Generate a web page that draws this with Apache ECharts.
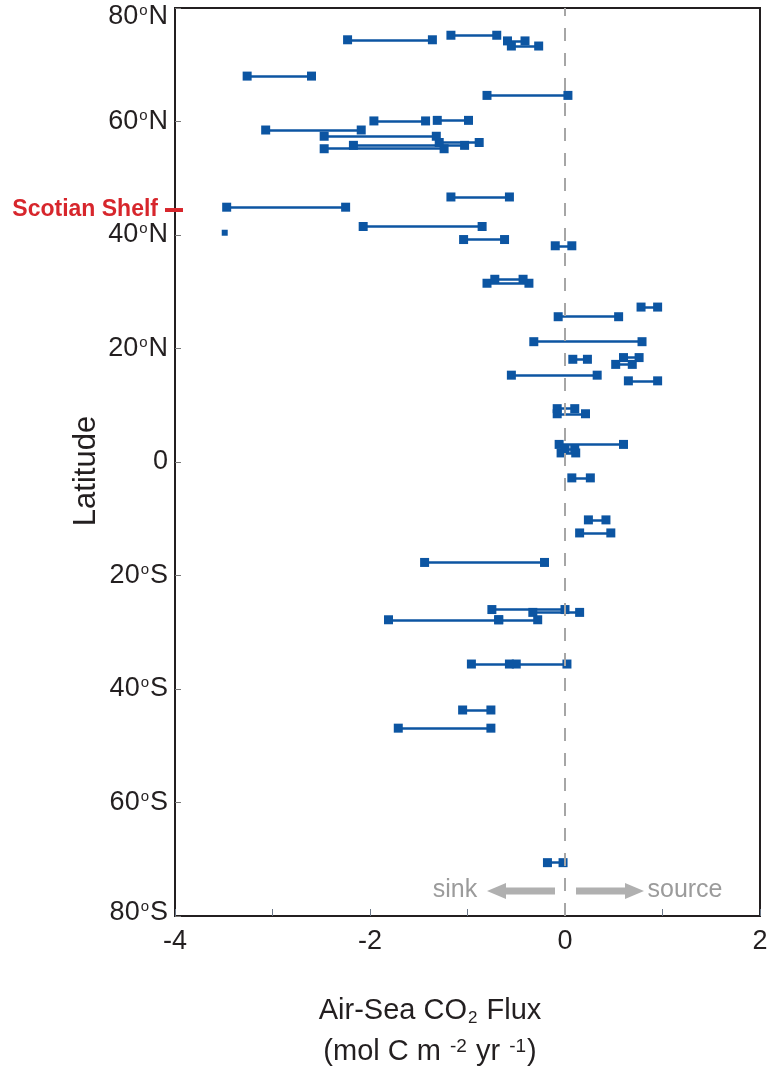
<!DOCTYPE html>
<html>
<head>
<meta charset="utf-8">
<script src="https://cdn.jsdelivr.net/npm/echarts@6/dist/echarts.min.js"></script>
<style>
  html, body { margin: 0; padding: 0; background: #ffffff; }
  #chart { width: 767px; height: 1074px; }
</style>
</head>
<body>
<div id="chart"></div>
<script>
// Latitude (deg, + north / - south) of each flux range
const segLat = [
  75.2, 74.4, 74.2, 73.3, 68.0, 64.6, 60.1, 60.2, 58.5, 57.4,
  55.2, 55.8, 56.3, 46.7, 44.9, 41.5, 39.2, 38.1, 31.5, 32.2,
  27.3, 25.6, 21.2, 18.1, 18.4, 17.2, 15.3, 14.3, 9.4, 8.5,
  3.1, 1.6, 2.3, -2.8, -10.2, -12.5, -17.7, -26.0, -26.5, -27.8,
  -27.8, -35.6, -35.6, -43.7, -46.9, -70.6
];
// Low end of each range (mol C m-2 yr-1)
const fluxStart = [
  -1.17, -2.23, -0.59, -0.55, -3.26, -0.80, -1.96, -1.31, -3.07, -2.47,
  -2.47, -2.17, -1.29, -1.17, -3.47, -2.07, -1.04, -0.10, -0.80, -0.72,
  0.78, -0.07, -0.32, 0.08, 0.60, 0.52, -0.55, 0.65, -0.08, -0.08,
  -0.06, -0.04, 0.00, 0.07, 0.24, 0.15, -1.44, -0.75, -0.33, -1.81,
  -0.68, -0.96, -0.57, -1.05, -1.71, -0.18
];
// High end of each range
const fluxEnd = [
  -0.70, -1.36, -0.41, -0.27, -2.60, 0.03, -1.43, -0.99, -2.09, -1.32,
  -1.24, -1.03, -0.88, -0.57, -2.25, -0.85, -0.62, 0.07, -0.37, -0.43,
  0.95, 0.55, 0.79, 0.23, 0.76, 0.69, 0.33, 0.95, 0.10, 0.21,
  0.60, 0.11, 0.10, 0.26, 0.42, 0.47, -0.21, 0.00, 0.15, -0.68,
  -0.28, 0.02, -0.50, -0.76, -0.76, -0.02
];
// Single-value estimate
const singleLat = [40.4];
const singleFlux = [-3.49];

// Axis ticks and labels
const latTicks = [80, 60, 40, 20, 0, -20, -40, -60, -80];
const latTickNum = ['80', '60', '40', '20', '0', '20', '40', '60', '80'];
const latTickHemi = ['N', 'N', 'N', 'N', '', 'S', 'S', 'S', 'S'];
const fluxTicks = [-4, -2, 0, 2];
const fluxTickText = ['-4', '-2', '0', '2'];

const scotianLat = 44.4;

const FONT = '"Liberation Sans", Arial, Helvetica, sans-serif';
const BLUE = '#0c55a2';
const INK = '#231f20';
const RED = '#d7262c';
const GREY = '#a6a6a6';

const segments = segLat.map((lat, i) => ({ coords: [[fluxStart[i], lat], [fluxEnd[i], lat]] }));
const endpoints = [];
segLat.forEach((lat, i) => { endpoints.push([fluxStart[i], lat]); endpoints.push([fluxEnd[i], lat]); });

// latitude label: number, small raised "o", hemisphere letter;
// the end labels are nudged inward so they stay inside the frame height
function latLabel(v) {
  const k = latTicks.indexOf(v);
  if (k < 0) return '';
  if (!latTickHemi[k]) return '{n|' + latTickNum[k] + '}';
  let n = 'n', d = 'd';
  if (k === 0) { n = 't'; d = 'td'; }
  if (k === latTicks.length - 1) { n = 'b'; d = 'bd'; }
  return '{' + n + '|' + latTickNum[k] + '}{' + d + '|o}{' + n + '|' + latTickHemi[k] + '}';
}
const numStyle = { fontSize: 27, color: INK, fontFamily: FONT };
const degStyle = { fontSize: 15, color: INK, fontFamily: FONT };

const chart = echarts.init(document.getElementById('chart'), null, { renderer: 'canvas' });

const option = {
  animation: false,
  backgroundColor: '#ffffff',
  grid: {
    left: 175, right: 7, top: 8, bottom: 158,
    show: true, borderColor: INK, borderWidth: 2,
    containLabel: false, outerBoundsMode: 'none'
  },
  xAxis: {
    type: 'value', min: -4, max: 2, interval: 1,
    axisLine: { show: true, onZero: false, lineStyle: { color: INK, width: 2 } },
    axisTick: { show: true, inside: true, length: 7, lineStyle: { color: '#6b7787', width: 1 } },
    splitLine: { show: false },
    axisLabel: {
      showMinLabel: true, showMaxLabel: true, hideOverlap: false,
      margin: 12, color: INK, fontSize: 27, fontFamily: FONT,
      formatter: v => {
        const k = fluxTicks.indexOf(v);
        return k >= 0 ? fluxTickText[k] : '';
      }
    }
  },
  yAxis: {
    type: 'value', min: -80, max: 80, interval: 20,
    axisLine: { show: true, onZero: false, lineStyle: { color: INK, width: 2 } },
    axisTick: { show: true, inside: true, length: 6, lineStyle: { color: '#777777', width: 1 } },
    splitLine: { show: false },
    axisLabel: {
      showMinLabel: true, showMaxLabel: true, hideOverlap: false,
      margin: 7,
      formatter: latLabel,
      rich: {
        n: numStyle,
        d: Object.assign({ verticalAlign: 'top', padding: [0, 1, 10, 1] }, degStyle),
        t: Object.assign({ padding: [18, 0, 0, 0] }, numStyle),
        td: Object.assign({ verticalAlign: 'bottom', padding: [0, 1, 12, 1] }, degStyle),
        b: Object.assign({ padding: [0, 0, 6, 0] }, numStyle),
        bd: Object.assign({ verticalAlign: 'top', padding: [0, 1, 16, 1] }, degStyle)
      }
    }
  },
  series: [
    {
      // zero-flux reference
      type: 'scatter', data: [], z: 1, silent: true,
      markLine: {
        silent: true, symbol: ['none', 'none'], animation: false,
        label: { show: false },
        lineStyle: { type: [13, 12], color: GREY, width: 2, opacity: 1 },
        emphasis: { disabled: true },
        data: [{ xAxis: 0 }]
      }
    },
    {
      type: 'lines', coordinateSystem: 'cartesian2d', z: 2, silent: true,
      lineStyle: { color: BLUE, width: 2.5, opacity: 1, curveness: 0 },
      data: segments
    },
    {
      type: 'scatter', z: 3, silent: true,
      symbol: 'rect', symbolSize: 9,
      itemStyle: { color: BLUE, opacity: 1 },
      data: endpoints
    },
    {
      type: 'scatter', z: 3, silent: true,
      symbol: 'rect', symbolSize: 6,
      itemStyle: { color: BLUE, opacity: 1 },
      data: singleLat.map((lat, i) => [singleFlux[i], lat])
    }
  ]
};
chart.setOption(option);

// annotations placed from axis coordinates
const yScot = chart.convertToPixel({ yAxisIndex: 0 }, scotianLat);
const arrowY = 891;
chart.setOption({
  graphic: [
    {
      type: 'text', x: 86, y: 471, rotation: Math.PI / 2,
      style: { text: 'Latitude', fill: INK, font: '31px ' + FONT, align: 'center', verticalAlign: 'middle' }
    },
    {
      type: 'text', x: 158, y: yScot,
      style: { text: 'Scotian Shelf', fill: RED, font: 'bold 23px ' + FONT, align: 'right', verticalAlign: 'middle' }
    },
    { type: 'rect', shape: { x: 165, y: yScot - 2, width: 18, height: 4 }, style: { fill: RED }, z: 10 },
    {
      type: 'text', x: 455, y: arrowY - 1,
      style: { text: 'sink', fill: '#9b9b9b', font: '25px ' + FONT, align: 'center', verticalAlign: 'middle' }
    },
    {
      type: 'text', x: 685, y: arrowY - 1,
      style: { text: 'source', fill: '#9b9b9b', font: '25px ' + FONT, align: 'center', verticalAlign: 'middle' }
    },
    {
      type: 'polygon',
      shape: { points: [[555, arrowY - 3.5], [506, arrowY - 3.5], [506, arrowY - 8], [487, arrowY], [506, arrowY + 8], [506, arrowY + 3.5], [555, arrowY + 3.5]] },
      style: { fill: '#b0b0b0' }
    },
    {
      type: 'polygon',
      shape: { points: [[576, arrowY - 3.5], [625, arrowY - 3.5], [625, arrowY - 8], [644, arrowY], [625, arrowY + 8], [625, arrowY + 3.5], [576, arrowY + 3.5]] },
      style: { fill: '#b0b0b0' }
    },
    {
      type: 'text', x: 430, y: 1011,
      style: {
        text: 'Air-Sea CO{sub|2} Flux', fill: INK, font: '29px ' + FONT, align: 'center', verticalAlign: 'middle',
        rich: { sub: { fontSize: 17, fontFamily: FONT, fill: INK, verticalAlign: 'bottom', padding: [14, 1, 0, 1] } }
      }
    },
    {
      type: 'text', x: 430, y: 1052,
      style: {
        text: '(mol C m {sup|-2} yr {sup|-1})', fill: INK, font: '29px ' + FONT, align: 'center', verticalAlign: 'middle',
        rich: { sup: { fontSize: 19, fontFamily: FONT, fill: INK, verticalAlign: 'top', padding: [0, 1, 10, 1] } }
      }
    }
  ]
});
</script>
</body>
</html>
